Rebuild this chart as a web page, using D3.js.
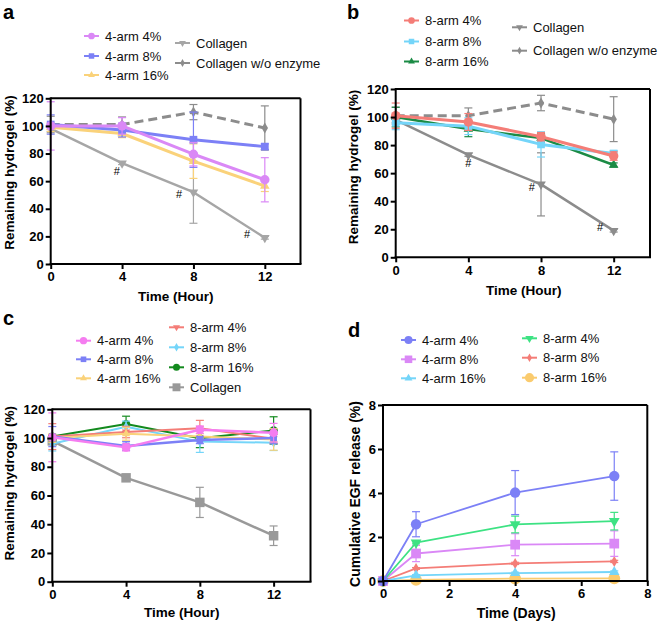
<!DOCTYPE html>
<html><head><meta charset="utf-8">
<script src="https://cdn.jsdelivr.net/npm/d3@7"></script>
<style>body{margin:0;background:#fff} text{font-family:"Liberation Sans",Arial,Helvetica,sans-serif}</style>
</head><body><svg id="chart" width="668" height="625"></svg>
<script>
// ---------- data ----------
const hours = [0, 4, 8, 12];
const days = [0, 1, 4, 7];
const hourTicks = [0, 4, 8, 12];
const pctTicks = [0, 20, 40, 60, 80, 100, 120];
const dayTicks = [0, 2, 4, 6, 8];
const releaseTicks = [0, 2, 4, 6, 8];

// shared collagen controls (panels a, b)
const collagen = [98, 73, 52, 19];
const collagenErr = [2, 1, 22.5, 1];
const collagenNoEnz = [101, 101, 110, 98.5];
const collagenNoEnzErr = [6, 5.5, 5.5, 16];
const hashA = [[3.7, 64.5], [7.2, 47.8], [11, 19]];
const hashB = [[4.0, 64.5], [7.5, 47.5], [11.25, 19]];

// panel a : 4-arm
const a4arm4 = [100, 100, 79.5, 61];
const a4arm4Err = [17.5, 6, 8.5, 16];
const a4arm8 = [101, 97, 90, 85];
const a4arm8Err = [7, 5, 20, 2];
const a4arm16 = [99, 94.5, 74.5, 56.5];
const a4arm16Err = [3, 3, 12.5, 4];

// panel b : 8-arm
const b8arm4 = [101, 96.5, 86, 72.2];
const b8arm4Err = [9, 6, 3, 3];
const b8arm8 = [96, 93.5, 80.5, 74];
const b8arm8Err = [5, 6, 9, 2];
const b8arm16 = [100, 91.5, 85, 65.8];
const b8arm16Err = [7, 5.5, 3, 1.5];

// panel c : without enzyme
const c4arm4 = [100.5, 93.5, 105.8, 103.7];
const c4arm4Err = [17, 2.5, 2.5, 6.5];
const c4arm8 = [101, 94.5, 98.6, 100];
const c4arm8Err = [7, 3, 2.5, 4];
const c4arm16 = [100, 103, 101, 99];
const c4arm16Err = [3, 4.5, 2, 7.5];
const c8arm4 = [101, 104.2, 106.8, 99.5];
const c8arm4Err = [9, 4, 5.5, 3];
const c8arm8 = [96, 107.8, 97.5, 96.8];
const c8arm8Err = [5, 4, 7.5, 5.5];
const c8arm16 = [101, 109.7, 99.8, 105.3];
const c8arm16Err = [1, 5.5, 6.5, 9.5];
const cCollagen = [98, 72.3, 55.2, 32];
const cCollagenErr = [2, 1.5, 10.5, 6.8];

// panel d : EGF release
const d4arm4 = [0, 2.58, 4.02, 4.77];
const d4arm4Err = [0, 0.57, 1.0, 1.1];
const d4arm8 = [0, 1.25, 1.65, 1.7];
const d4arm8Err = [0, 0.37, 0.5, 0.58];
const d4arm16 = [0, 0.26, 0.36, 0.41];
const d4arm16Err = [0, 0.03, 0.04, 0.05];
const d8arm4 = [0, 1.74, 2.57, 2.72];
const d8arm4Err = [0, 0.05, 0.38, 0.4];
const d8arm8 = [0, 0.57, 0.8, 0.89];
const d8arm8Err = [0, 0.04, 0.05, 0.05];
const d8arm16 = [0, 0.05, 0.11, 0.12];
const d8arm16Err = [0, 0.01, 0.02, 0.02];

// ---------- styles ----------
const C = {
  violet: "#DA88F6", pink: "#F57DF0", blue: "#7C80F6", yellow: "#FAD27A",
  grayL: "#A6A6A6", grayD: "#8C8C8C", salmon: "#F47D77", lblue: "#74D5F9",
  greenB: "#1B8B45", greenC: "#138A1E", greenD: "#3DE283", grayC: "#999999",
  orange: "#FACB6E"
};

const svg = d3.select("#chart");
const FONT = '"Liberation Sans",Arial,Helvetica,sans-serif';

function symbolPath(shape, size) {
  const map = {circle: d3.symbolCircle, square: d3.symbolSquare, triangle: d3.symbolTriangle,
               triDown: d3.symbolTriangle, diamond: d3.symbolDiamond};
  return d3.symbol().type(map[shape]).size(size)();
}

function drawMarker(g, shape, size, color, cx, cy) {
  g.append("path").attr("d", symbolPath(shape, size))
    .attr("transform", `translate(${cx},${cy})` + (shape === "triDown" ? " rotate(180)" : ""))
    .attr("fill", color);
}

function drawPanel(p) {
  const g = svg.append("g");
  const x = d3.scaleLinear().domain(p.xDomain).range([p.left, p.right]);
  const y = d3.scaleLinear().domain(p.yDomain).range([p.bottom, p.top]);

  // panel letter
  g.append("text").attr("x", p.letter[0]).attr("y", p.letter[1]).text(p.letter[2])
    .attr("font-size", 20).attr("font-weight", "bold");

  // series
  p.series.forEach(s => {
    const pts = s.x.map((xv, i) => ({x: xv, y: s.y[i], e: s.err[i]}));
    const sg = g.append("g");
    const cap = s.cap || 4;
    pts.forEach(d => {
      if (!d.e) return;
      const y1 = y(d.y + d.e), y0 = y(Math.max(0, d.y - d.e)), xx = x(d.x);
      sg.append("line").attr("x1", xx).attr("x2", xx).attr("y1", y1).attr("y2", y0)
        .attr("stroke", s.color).attr("stroke-width", s.ew || 1.2);
      [y1, y0].forEach(yy => sg.append("line").attr("x1", xx - cap).attr("x2", xx + cap)
        .attr("y1", yy).attr("y2", yy).attr("stroke", s.color).attr("stroke-width", s.ew || 1.2));
    });
    sg.append("path").datum(pts)
      .attr("d", d3.line().x(d => x(d.x)).y(d => y(d.y)))
      .attr("fill", "none").attr("stroke", s.color).attr("stroke-width", s.lw)
      .attr("stroke-dasharray", s.dash || null).attr("stroke-linejoin", "round");
    pts.forEach(d => drawMarker(sg, s.shape, s.size, s.color, x(d.x), y(d.y)));
  });

  // hash annotations
  (p.hash || []).forEach(h => g.append("text").attr("x", x(h[0])).attr("y", y(h[1]))
    .attr("text-anchor", "middle").attr("font-size", 11).text("#"));

  // frame
  g.append("line").attr("x1", p.left).attr("x2", p.right).attr("y1", p.top).attr("y2", p.top)
    .attr("stroke", "#000").attr("stroke-width", 2);
  g.append("line").attr("x1", p.right).attr("x2", p.right).attr("y1", p.top).attr("y2", p.bottom)
    .attr("stroke", "#000").attr("stroke-width", 2);

  // axes
  const xa = g.append("g").attr("transform", `translate(0,${p.bottom})`)
    .call(d3.axisBottom(x).tickValues(p.xTicks).tickSize(5).tickPadding(3).tickSizeOuter(0).tickFormat(d3.format("d")));
  const ya = g.append("g").attr("transform", `translate(${p.left},0)`)
    .call(d3.axisLeft(y).tickValues(p.yTicks).tickSize(5).tickPadding(2).tickSizeOuter(0).tickFormat(d3.format("d")));
  [xa, ya].forEach(a => {
    a.selectAll("path.domain").attr("stroke", "#000").attr("stroke-width", 2);
    a.selectAll(".tick line").attr("stroke", "#000").attr("stroke-width", 2);
    a.selectAll("text").attr("font-size", 13).attr("font-weight", "bold").attr("fill", "#000")
      .attr("font-family", FONT);
  });
  xa.select("path.domain").attr("d", `M${p.left - 1},0H${p.right + 1}`);
  ya.select("path.domain").attr("d", `M0,${p.bottom + 1}V${p.top - 1}`);

  // titles
  g.append("text").attr("x", p.xTitle[1]).attr("y", p.xTitle[2]).attr("text-anchor", "middle")
    .attr("font-size", p.titleSize || 13.5).attr("font-weight", "bold").text(p.xTitle[0]);
  g.append("text").attr("transform", `translate(${p.yTitle[1]},${p.yTitle[2]}) rotate(-90)`)
    .attr("text-anchor", "middle").attr("font-size", p.titleSize || 13.5).attr("font-weight", "bold")
    .text(p.yTitle[0]);

  // legend
  p.legend.forEach(l => {
    const s = p.series.find(q => q.name === l.name);
    const lg = g.append("g");
    lg.append("line").attr("x1", l.x).attr("x2", l.x + 15).attr("y1", l.y).attr("y2", l.y)
      .attr("stroke", s.color).attr("stroke-width", 2);
    drawMarker(lg, s.shape, s.size * (p.legendScale || 0.5), s.color, l.x + 7.5, l.y);
    lg.append("text").attr("x", l.x + 21).attr("y", l.y + 4.5).attr("font-size", 13)
      .attr("fill", "#111").text(s.name);
  });
}

// ---------- panel a ----------
drawPanel({
  left: 50.7, right: 300.5, top: 98.3, bottom: 264,
  xDomain: [0, 14], yDomain: [0, 120], xTicks: hourTicks, yTicks: pctTicks,
  letter: [3, 18.5, "a"],
  xTitle: ["Time (Hour)", 175.8, 301], yTitle: ["Remaining hydrogel (%)", 13.5, 172.5],
  hash: hashA,
  series: [
    {name: "Collagen w/o enzyme", x: hours, y: collagenNoEnz, err: collagenNoEnzErr, color: C.grayD, shape: "diamond", size: 35, lw: 3, dash: "9,5"},
    {name: "Collagen", x: hours, y: collagen, err: collagenErr, color: C.grayL, shape: "triDown", size: 40, lw: 2.5},
    {name: "4-arm 16%", x: hours, y: a4arm16, err: a4arm16Err, color: C.yellow, shape: "triangle", size: 40, lw: 3},
    {name: "4-arm 8%", x: hours, y: a4arm8, err: a4arm8Err, color: C.blue, shape: "square", size: 60, lw: 3},
    {name: "4-arm 4%", x: hours, y: a4arm4, err: a4arm4Err, color: C.violet, shape: "circle", size: 70, lw: 3}
  ],
  legend: [
    {name: "4-arm 4%", x: 84, y: 36}, {name: "4-arm 8%", x: 84, y: 56}, {name: "4-arm 16%", x: 84, y: 75},
    {name: "Collagen", x: 175, y: 43}, {name: "Collagen w/o enzyme", x: 175, y: 63}
  ]
});

// ---------- panel b ----------
drawPanel({
  left: 395.7, right: 650, top: 89, bottom: 257.3,
  xDomain: [0, 14], yDomain: [0, 120], xTicks: hourTicks, yTicks: pctTicks,
  letter: [347, 18.5, "b"],
  xTitle: ["Time (Hour)", 523.7, 295], yTitle: ["Remaining hydrogel (%)", 358, 167],
  hash: hashB,
  series: [
    {name: "Collagen w/o enzyme", x: hours, y: collagenNoEnz, err: collagenNoEnzErr, color: C.grayD, shape: "diamond", size: 35, lw: 3, dash: "9,5"},
    {name: "Collagen", x: hours, y: collagen, err: collagenErr, color: C.grayD, shape: "triDown", size: 40, lw: 2.5},
    {name: "8-arm 16%", x: hours, y: b8arm16, err: b8arm16Err, color: C.greenB, shape: "triangle", size: 40, lw: 2.5},
    {name: "8-arm 8%", x: hours, y: b8arm8, err: b8arm8Err, color: C.lblue, shape: "square", size: 60, lw: 3},
    {name: "8-arm 4%", x: hours, y: b8arm4, err: b8arm4Err, color: C.salmon, shape: "circle", size: 70, lw: 3}
  ],
  legend: [
    {name: "8-arm 4%", x: 404, y: 20.5}, {name: "8-arm 8%", x: 404, y: 41.5}, {name: "8-arm 16%", x: 404, y: 61.5},
    {name: "Collagen", x: 512, y: 27.3}, {name: "Collagen w/o enzyme", x: 512, y: 50.7}
  ]
});

// ---------- panel c ----------
drawPanel({
  left: 52.3, right: 310.5, top: 409.3, bottom: 581.7,
  xDomain: [0, 14], yDomain: [0, 120], xTicks: hourTicks, yTicks: pctTicks,
  letter: [3, 325, "c"],
  xTitle: ["Time (Hour)", 181.7, 617], yTitle: ["Remaining hydrogel (%)", 14, 483.3],
  series: [
    {name: "Collagen", x: hours, y: cCollagen, err: cCollagenErr, color: C.grayC, shape: "square", size: 90, lw: 2.5},
    {name: "8-arm 16%", x: hours, y: c8arm16, err: c8arm16Err, color: C.greenC, shape: "circle", size: 55, lw: 2},
    {name: "8-arm 8%", x: hours, y: c8arm8, err: c8arm8Err, color: C.lblue, shape: "diamond", size: 30, lw: 2},
    {name: "8-arm 4%", x: hours, y: c8arm4, err: c8arm4Err, color: C.salmon, shape: "triDown", size: 30, lw: 2},
    {name: "4-arm 16%", x: hours, y: c4arm16, err: c4arm16Err, color: C.yellow, shape: "triangle", size: 30, lw: 2},
    {name: "4-arm 8%", x: hours, y: c4arm8, err: c4arm8Err, color: C.blue, shape: "square", size: 45, lw: 2.5},
    {name: "4-arm 4%", x: hours, y: c4arm4, err: c4arm4Err, color: C.pink, shape: "circle", size: 60, lw: 2.5}
  ],
  legendScale: 0.7,
  legend: [
    {name: "4-arm 4%", x: 76, y: 340.7}, {name: "4-arm 8%", x: 76, y: 359.3}, {name: "4-arm 16%", x: 76, y: 378.3},
    {name: "8-arm 4%", x: 169, y: 327.3}, {name: "8-arm 8%", x: 169, y: 347.3},
    {name: "8-arm 16%", x: 169, y: 367.3}, {name: "Collagen", x: 169, y: 387.3}
  ]
});

// ---------- panel d ----------
drawPanel({
  left: 383, right: 647.3, top: 405, bottom: 581,
  xDomain: [0, 8], yDomain: [0, 8], xTicks: dayTicks, yTicks: releaseTicks,
  letter: [348, 337, "d"], titleSize: 14,
  xTitle: ["Time (Days)", 516.2, 618], yTitle: ["Cumulative EGF release (%)", 359.5, 494],
  series: [
    {name: "8-arm 16%", x: days, y: d8arm16, err: d8arm16Err, color: C.orange, shape: "circle", size: 110, lw: 1.8},
    {name: "8-arm 8%", x: days, y: d8arm8, err: d8arm8Err, color: C.salmon, shape: "diamond", size: 35, lw: 1.8},
    {name: "4-arm 16%", x: days, y: d4arm16, err: d4arm16Err, color: C.lblue, shape: "triangle", size: 45, lw: 1.8},
    {name: "4-arm 8%", x: days, y: d4arm8, err: d4arm8Err, color: C.violet, shape: "square", size: 95, lw: 1.8},
    {name: "8-arm 4%", x: days, y: d8arm4, err: d8arm4Err, color: C.greenD, shape: "triDown", size: 50, lw: 1.8},
    {name: "4-arm 4%", x: days, y: d4arm4, err: d4arm4Err, color: C.blue, shape: "circle", size: 85, lw: 1.8}
  ],
  legendScale: 0.6,
  legend: [
    {name: "4-arm 4%", x: 401, y: 340}, {name: "4-arm 8%", x: 401, y: 359.3}, {name: "4-arm 16%", x: 401, y: 378.3},
    {name: "8-arm 4%", x: 522, y: 338.3}, {name: "8-arm 8%", x: 522, y: 357.7}, {name: "8-arm 16%", x: 522, y: 377.7}
  ]
});
</script></body></html>
